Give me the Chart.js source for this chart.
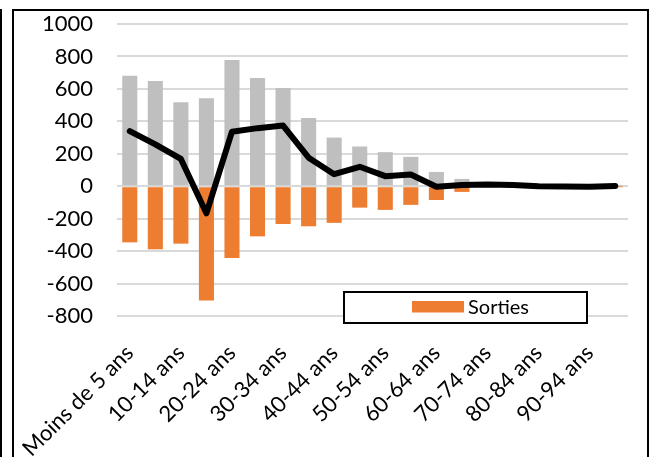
<!DOCTYPE html>
<html lang="fr">
<head>
<meta charset="utf-8">
<title>Entrées, sorties et solde par âge</title>
<script src="https://cdn.jsdelivr.net/npm/chart.js@4/dist/chart.umd.min.js"></script>
<style>
  html, body { margin: 0; padding: 0; background: #fff; }
  #wrap { position: relative; width: 651px; height: 457px; }
</style>
</head>
<body>
<div id="wrap"><canvas id="c" width="651" height="457"></canvas></div>
<script>
// Tranches d'âge
const categories = [
  'Moins de 5 ans', '5-9 ans', '10-14 ans', '15-19 ans', '20-24 ans',
  '25-29 ans', '30-34 ans', '35-39 ans', '40-44 ans', '45-49 ans',
  '50-54 ans', '55-59 ans', '60-64 ans', '65-69 ans', '70-74 ans',
  '75-79 ans', '80-84 ans', '85-89 ans', '90-94 ans', '95 ans et plus'
];
// Entrées (positives)
const entrees = [681, 648, 518, 543, 778, 667, 605, 420, 300, 245,
                 210, 181, 88, 45, 14, 10, 6, 4, 2, 2];
// Sorties (négatives)
const sorties = [-346, -389, -354, -704, -442, -309, -233, -247, -226, -132,
                 -146, -115, -85, -35, -4, -2, -6, -5, -5, -1];
// Solde
const solde = [340, 258, 168, -167, 336, 358, 374, 176, 74, 120,
               62, 72, -3, 8, 10, 8, 0, -1, -3, 1];
// Graduations de l'axe vertical
const yTicks = [-800, -600, -400, -200, 0, 200, 400, 600, 800, 1000];

const FONT = 'Lato, "Open Sans", sans-serif';

// Cadre autour du graphique
const framePlugin = {
  id: 'frame',
  beforeDraw(chart) {
    const ctx = chart.ctx;
    ctx.save();
    ctx.fillStyle = '#ffffff';
    ctx.fillRect(0, 0, chart.width, chart.height);
    ctx.restore();
  },
  afterDraw(chart) {
    const ctx = chart.ctx;
    ctx.save();
    ctx.strokeStyle = '#000';
    ctx.lineWidth = 2;
    ctx.beginPath();
    ctx.moveTo(13, chart.height + 2);
    ctx.lineTo(13, 10);
    ctx.lineTo(648, 10);
    ctx.lineTo(648, chart.height + 2);
    ctx.stroke();
    ctx.beginPath();
    ctx.moveTo(1, 9);
    ctx.lineTo(1, chart.height + 2);
    ctx.stroke();
    ctx.restore();
  }
};

// Légende encadrée dans la zone de tracé
const boxLegendPlugin = {
  id: 'boxLegend',
  afterDraw(chart) {
    const ctx = chart.ctx;
    const ds = chart.data.datasets[1];
    ctx.save();
    ctx.fillStyle = '#fff';
    ctx.fillRect(344, 292, 243, 31);
    ctx.strokeStyle = '#000';
    ctx.lineWidth = 2;
    ctx.strokeRect(344, 292, 243, 31);
    ctx.fillStyle = ds.backgroundColor;
    ctx.fillRect(412, 301, 52, 11.5);
    ctx.fillStyle = '#000';
    ctx.font = '20px ' + FONT;
    ctx.textBaseline = 'alphabetic';
    ctx.textAlign = 'left';
    ctx.fillText(ds.label, 468, 314);
    ctx.restore();
  }
};

new Chart(document.getElementById('c'), {
  type: 'bar',
  data: {
    labels: categories,
    datasets: [
      {
        type: 'line',
        label: 'Solde',
        data: solde,
        borderColor: '#000',
        borderWidth: 6,
        pointRadius: 0,
        tension: 0,
        borderJoinStyle: 'round',
        borderCapStyle: 'round',
        order: 0
      },
      {
        label: 'Sorties',
        data: sorties,
        backgroundColor: '#ed7d31',
        barPercentage: 0.59,
        categoryPercentage: 1,
        order: 1
      },
      {
        label: 'Entrées',
        data: entrees,
        backgroundColor: '#bfbfbf',
        barPercentage: 0.59,
        categoryPercentage: 1,
        order: 2
      }
    ]
  },
  options: {
    responsive: false,
    animation: false,
    layout: { padding: { left: 13, right: 23, top: 24, bottom: 0 } },
    plugins: {
      legend: { display: false },
      tooltip: { enabled: false }
    },
    scales: {
      x: {
        stacked: true,
        offset: true,
        grid: { display: false, drawTicks: false },
        border: { display: false },
        ticks: {
          autoSkip: false,
          maxRotation: 45,
          minRotation: 45,
          padding: 24,
          color: '#000',
          font: { family: FONT, size: 22 },
          callback(value, index) {
            return index % 2 === 0 ? categories[index] : '';
          }
        },
        afterFit(scale) {
          scale.height = 141;
          scale.paddingLeft = 0;
          scale.paddingRight = 0;
        }
      },
      y: {
        stacked: false,
        min: yTicks[0],
        max: yTicks[yTicks.length - 1],
        afterBuildTicks(scale) {
          scale.ticks = yTicks.map(v => ({ value: v }));
        },
        grid: { color: '#d9d9d9', lineWidth: 2, drawTicks: false },
        border: { display: false },
        ticks: {
          padding: 24,
          color: '#000',
          font: { family: FONT, size: 22 },
          callback(value) { return String(value); }
        },
        afterFit(scale) {
          scale.width = 104;
          scale.paddingTop = 12;
          scale.paddingBottom = 12;
        }
      }
    }
  },
  plugins: [framePlugin, boxLegendPlugin]
});
</script>
</body>
</html>
